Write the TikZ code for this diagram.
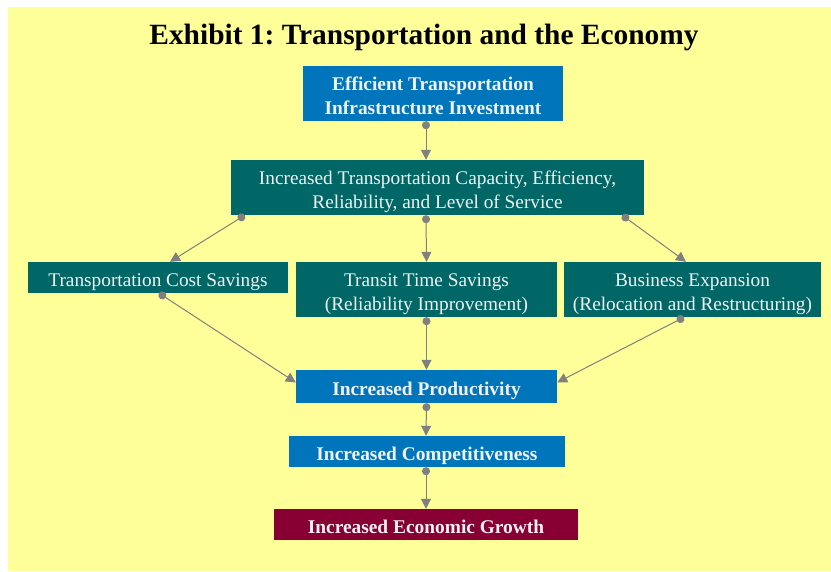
\documentclass[tikz,border=0pt]{standalone}
\usepackage{fontspec}
\setmainfont{Liberation Serif}
\frenchspacing
\usetikzlibrary{arrows.meta}
\definecolor{bgyellow}{RGB}{255,255,153}
\definecolor{boxblue}{RGB}{0,117,188}
\definecolor{boxteal}{RGB}{0,102,102}
\definecolor{boxmaroon}{RGB}{136,0,51}
\definecolor{conngray}{RGB}{128,128,128}
\definecolor{txtwhite}{RGB}{242,242,242}
\tikzset{
  box/.style={rectangle, inner sep=0pt, align=center, text=txtwhite,
    font=\fontsize{19.3}{24}\selectfont, text height=17pt, text depth=0pt},
  two/.style={text height=41pt},
  bluebox/.style={box, fill=boxblue, font=\fontsize{19.4}{24}\selectfont\bfseries},
  tealbox/.style={box, fill=boxteal},
  redbox/.style={box, fill=boxmaroon, font=\fontsize{19.4}{24}\selectfont\bfseries},
  conn/.style={draw=conngray, line width=1pt,
    {Circle[length=8pt,fill=conngray]}-{Triangle[length=10pt,width=10pt,fill=conngray]}},
}
\begin{document}
\begin{tikzpicture}[x=1pt,y=-1pt]
\useasboundingbox (0,0) rectangle (831,571);
\fill[bgyellow] (8,7) rectangle (831,571);
\node[font=\fontsize{29.4}{32}\selectfont\bfseries] (title) at (424,37.5) {Exhibit 1: Transportation and the Economy};
\node[bluebox, two, minimum width=260pt, minimum height=55pt] (a) at (433,93.5)
  {Efficient Transportation\\Infrastructure Investment};
\node[tealbox, two, minimum width=413pt, minimum height=55pt] (b) at (437.5,187.5)
  {Increased Transportation Capacity, Efficiency,\\Reliability, and Level of Service};
\node[tealbox, minimum width=260pt, minimum height=31pt] (c) at (158,277.5)
  {Transportation Cost Savings};
\node[tealbox, two, minimum width=261pt, minimum height=55pt] (d) at (426.5,289.5)
  {Transit Time Savings\\(Reliability Improvement)};
\node[tealbox, two, minimum width=257pt, minimum height=55pt] (e) at (692.5,289.5)
  {Business Expansion\\(Relocation and Restructuring)};
\node[bluebox, minimum width=261pt, minimum height=33pt] (f) at (426.5,386.5)
  {Increased Productivity};
\node[bluebox, minimum width=276pt, minimum height=31pt] (g) at (427,451.5)
  {Increased Competitiveness};
\node[redbox, minimum width=304pt, minimum height=31pt] (h) at (426,524.5)
  {Increased Economic Growth};
\draw[conn] ([xshift=-7pt]a.south) -- ([xshift=-11.5pt]b.north);
\draw[conn] ([xshift=14pt]b.south west) -- ([xshift=12pt]c.north);
\draw[conn] ([xshift=-11.5pt]b.south) -- (d.north);
\draw[conn] ([xshift=-22pt]b.south east) -- ([xshift=-6.5pt]e.north);
\draw[conn] ([xshift=1pt]c.south) -- ([yshift=4pt]f.west);
\draw[conn] (d.south) -- (f.north);
\draw[conn] ([xshift=-8.5pt]e.south) -- ([yshift=4pt]f.east);
\draw[conn] (f.south) -- ([xshift=-1pt]g.north);
\draw[conn] ([xshift=-1pt]g.south) -- (h.north);
\end{tikzpicture}
\end{document}
